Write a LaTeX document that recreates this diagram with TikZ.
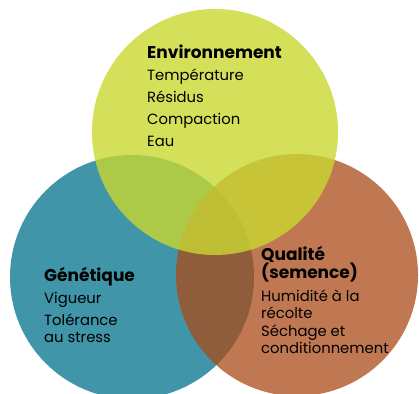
\documentclass[tikz,border=0pt]{standalone}
\usepackage{fontspec}
\setmainfont{Poppins}
\definecolor{envcol}{RGB}{201,215,49}
\definecolor{gencol}{RGB}{64,149,168}
\definecolor{qualcol}{RGB}{171,75,24}
\newcommand\vennfont{\fontsize{14.8}{17}\selectfont\lineskiplimit=-20pt\relax}
\newcommand\venntitre[1]{{\fontsize{17}{17}\selectfont\bfseries #1}}
\tikzset{
  venntext/.style={anchor=base west, inner sep=0pt, align=left, font=\vennfont}
}
\begin{document}
\begin{tikzpicture}[x=1pt,y=1pt]
\useasboundingbox (0,0) rectangle (419,393);
% les trois cercles
\fill [gencol] (132,116) circle (122);
\fill [qualcol, opacity=0.75] (297,118) circle (121);
\fill [envcol, opacity=0.8] (215,261) circle (123);
% textes (ancre = ligne de base de la derniere ligne)
\node (env) at (147,246.3) [venntext] {\venntitre{Environnement}\\[5pt]
  Température\\[5pt] Résidus\\[5pt] Compaction\\[5pt] Eau};
\node (gen) at (44,50.7) [venntext] {\venntitre{Génétique}\\[5pt]
  Vigueur\\[5pt] Tolérance\\ au stress};
\node (qual) at (261,40) [venntext] {\venntitre{Qualité}\\ \venntitre{(semence)}\\[6pt]
  Humidité à la\\ récolte\\[1pt] Séchage et\\ conditionnement};
\end{tikzpicture}
\end{document}
